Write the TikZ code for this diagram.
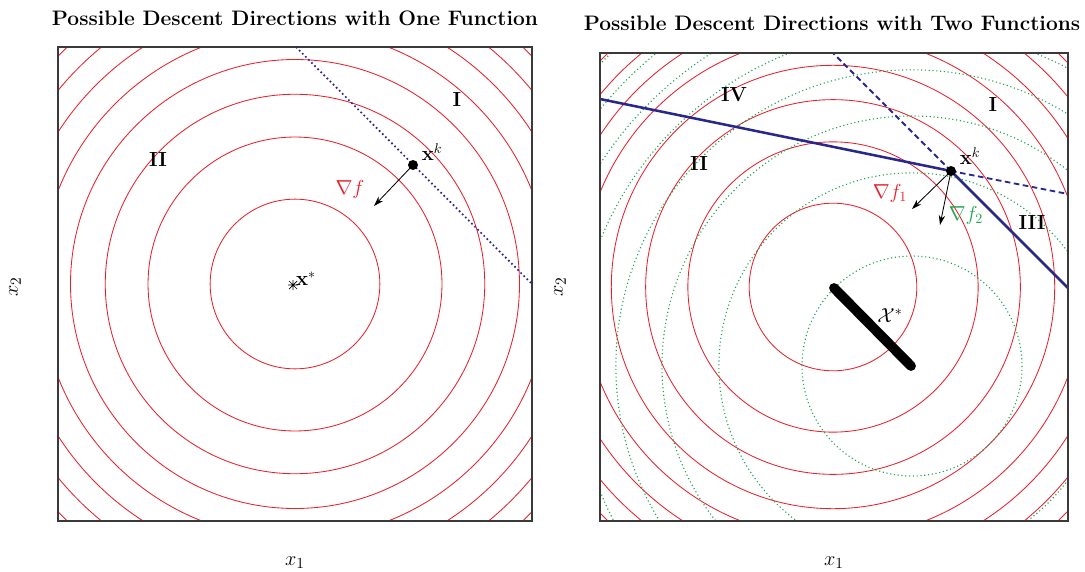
\documentclass[tikz,border=0pt]{standalone}
\usepackage{xcolor}
\usepackage{amsmath}
\usepackage{amssymb}
\usepackage{tikz}
\usetikzlibrary{arrows.meta}
\definecolor{ddred}{HTML}{E8202A}
\definecolor{ddgreen}{HTML}{1FA552}
\definecolor{ddnavy}{HTML}{28288C}
\definecolor{ddgrey}{HTML}{3A3A3A}

\begin{document}
\begin{tikzpicture}[x=0.025cm,y=-0.025cm,
  redlvl/.style={ddred,line width=0.6pt},
  greenlvl/.style={ddgreen,line width=0.8pt,dash pattern=on 0.8pt off 1.9pt},
  panelframe/.style={ddgrey,line width=0.8pt},
  gradarrow/.style={black,line width=0.6pt,-{Stealth[length=7pt,width=4.5pt]}},
  regionlbl/.style={font=\fontsize{14.5}{17}\selectfont\bfseries},
  ttl/.style={font=\fontsize{14.9}{18}\selectfont\bfseries},
  axlbl/.style={font=\fontsize{15}{17}\selectfont},
  mathlbl/.style={font=\fontsize{14}{16}\selectfont}]
\useasboundingbox (0,0) rectangle (1085,572);

\node[ttl] (ttlone) at (295,18) {Possible Descent Directions with One Function};
\node[ttl] (ttltwo) at (832,23) {Possible Descent Directions with Two Functions};

\begin{scope}
\clip (58,47) rectangle (532,521);
\foreach \k in {0,...,7}
  \draw[redlvl] (295,284) circle[radius={120*sqrt(\k+0.5)}];
\end{scope}
\draw[panelframe] (58,47) rectangle (532,521);

\coordinate (tanA) at (296,47);
\coordinate (tanB) at (532,284);
\draw[ddnavy,line width=1.2pt,dash pattern=on 1.2pt off 1.9pt] (tanA) -- (tanB);
\coordinate (xkone) at (413,165);
\coordinate (gradone) at (374,206);
\draw[gradarrow] (xkone) -- (gradone);
\fill[black] (xkone) circle[radius=5];
\node[mathlbl] (xklblone) at (432,152) {$\mathbf{x}^k$};
\node[mathlbl,ddred] (nablaone) at (350,189) {$\nabla f$};
\coordinate (xopt) at (293,285);
\draw[black,line width=0.5pt] (xopt) ++(-5,0) -- ++(10,0)
  (xopt) ++(0,-5) -- ++(0,10)
  (xopt) ++(-4,-4) -- ++(8,8)
  (xopt) ++(-4,4) -- ++(8,-8);
\node[mathlbl] (xoptlbl) at (306,279) {$\mathbf{x}^*$};
\node[regionlbl] (ione) at (457,100) {I};
\node[regionlbl] (iione) at (158,160) {II};
\node[axlbl] (xonel) at (295,563) {$x_1$};
\node[axlbl,rotate=90] (xtwol) at (15,287) {$x_2$};

\begin{scope}
\clip (600,53) rectangle (1068,521);
\foreach \k in {0,...,7}
  \draw[redlvl] (833,287) circle[radius={118.5*sqrt(\k+0.5)}];
\foreach \k in {0,...,7}
  \draw[greenlvl] (912,366) circle[radius={10*sqrt(121+252*\k)}];
\end{scope}

\coordinate (xktwo) at (951,171);
\coordinate (tanC) at (600,99);
\coordinate (tanD) at (1068,288);
\coordinate (tanE) at (833,53);
\coordinate (tanF) at (1068,194);
\draw[ddnavy,line width=1.3pt,dash pattern=on 4pt off 2.5pt] (xktwo) -- (tanE);
\draw[ddnavy,line width=1.3pt,dash pattern=on 4pt off 2.5pt] (xktwo) -- (tanF);
\draw[ddnavy,line width=1.8pt] (tanC) -- (xktwo) -- (tanD);
\coordinate (optA) at (834,288);
\coordinate (optB) at (911,366);
\draw[black,line width=7pt,line cap=round] (optA) -- (optB);
\draw[panelframe] (600,53) rectangle (1068,521);

\coordinate (gradtwoA) at (912,209);
\coordinate (gradtwoB) at (940,225);
\draw[gradarrow] (xktwo) -- (gradtwoA);
\draw[gradarrow] (xktwo) -- (gradtwoB);
\fill[black] (xktwo) circle[radius=5];
\node[mathlbl] (xklbltwo) at (970,156) {$\mathbf{x}^k$};
\node[mathlbl,ddred] (nablatwoA) at (890,193) {$\nabla f_1$};
\node[mathlbl,ddgreen] (nablatwoB) at (966,215) {$\nabla f_2$};
\node[mathlbl] (parlbl) at (890,316) {$\mathcal{X}^*$};
\node[regionlbl] (itwo) at (993,105) {I};
\node[regionlbl] (iitwo) at (699,164) {II};
\node[regionlbl] (iiitwo) at (1032,223) {III};
\node[regionlbl] (ivtwo) at (734,95) {IV};
\node[axlbl] (xonelr) at (834,563) {$x_1$};
\node[axlbl,rotate=90] (xtwolr) at (560,287) {$x_2$};
\end{tikzpicture}
\end{document}
